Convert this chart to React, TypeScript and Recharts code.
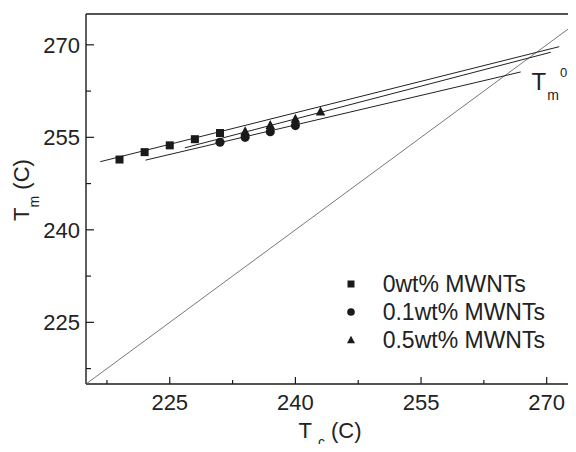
import React from "react";
import {
  ScatterChart,
  Scatter,
  XAxis,
  YAxis,
  ReferenceLine,
  ReferenceDot,
  Legend,
} from "recharts";

const FONT = "'Liberation Sans', Arial, Helvetica, sans-serif";

// measured points, Tc vs Tm (C)
const tcSquare = [219, 222, 225, 228, 231];
const tmSquare = [251.4, 252.6, 253.7, 254.7, 255.7];
const tcCircle = [231, 234, 237, 240];
const tmCircle = [254.2, 255.0, 255.9, 256.9];
const tcTriangle = [234, 237, 240, 243];
const tmTriangle = [256.0, 257.0, 258.0, 259.2];

// linear fits, start and end points
const fitSquareTc = [216.7, 271.5];
const fitSquareTm = [251.05, 269.7];
const fitCircleTc = [222.1, 266.9];
const fitCircleTm = [251.3, 265.6];
const fitTriangleTc = [226.8, 270.5];
const fitTriangleTm = [253.3, 268.8];

// Tm = Tc line
const diagonalT = [215, 273.5];

const seriesNames = ["0wt% MWNTs", "0.1wt% MWNTs", "0.5wt% MWNTs"];
const axisTicks = [217.5, 225, 232.5, 240, 247.5, 255, 262.5, 270];
const majorTicks = [225, 240, 255, 270];
const tm0Pos = { x: 268.2, y: 262.7 };

const toPoints = (xs: number[], ys: number[]) => xs.map((x, i) => ({ x, y: ys[i] }));

const squares = toPoints(tcSquare, tmSquare);
const circles = toPoints(tcCircle, tmCircle);
const triangles = toPoints(tcTriangle, tmTriangle);
const fitSquare = toPoints(fitSquareTc, fitSquareTm);
const fitCircle = toPoints(fitCircleTc, fitCircleTm);
const fitTriangle = toPoints(fitTriangleTc, fitTriangleTm);
const diagonal = toPoints(diagonalT, diagonalT);

const INK = "#1a1a1a";

const marker = (kind: number, cx: number, cy: number, s: number) => {
  if (kind === 0)
    return <rect x={cx - s / 2} y={cy - s / 2} width={s} height={s} fill={INK} />;
  if (kind === 1) return <circle cx={cx} cy={cy} r={s / 2 + 0.3} fill={INK} />;
  const h = s * 0.95;
  return (
    <polygon
      points={`${cx},${cy - h / 2 - 1} ${cx - s / 2 - 0.5},${cy + h / 2} ${cx + s / 2 + 0.5},${cy + h / 2}`}
      fill={INK}
    />
  );
};

const SquareShape = (p: any) => marker(0, p.cx, p.cy, 8);
const CircleShape = (p: any) => marker(1, p.cx, p.cy, 8.5);
const TriangleShape = (p: any) => marker(2, p.cx, p.cy, 8.5);
const NoShape = () => <g />;

const XTick = (props: any) => {
  const { x, y, payload } = props;
  const major = majorTicks.includes(payload.value);
  return (
    <g>
      <line x1={x} x2={x} y1={y} y2={y - (major ? 7 : 4)} stroke={INK} strokeWidth={1.2} />
      {major && (
        <text x={x} y={y + 26} textAnchor="middle" fontSize={22} fill="#222" fontFamily={FONT}>
          {payload.value}
        </text>
      )}
    </g>
  );
};

const YTick = (props: any) => {
  const { x, y, payload } = props;
  const major = majorTicks.includes(payload.value);
  return (
    <g>
      <line x1={x} x2={x + (major ? 8 : 5)} y1={y} y2={y} stroke={INK} strokeWidth={1.2} />
      {major && (
        <text x={x - 6} y={y + 8} textAnchor="end" fontSize={22} fill="#222" fontFamily={FONT}>
          {payload.value}
        </text>
      )}
    </g>
  );
};

const XTitle = (props: any) => {
  const vb = props.viewBox;
  const cx = vb.x + vb.width / 2 - 1;
  return (
    <text x={cx} y={vb.y + 54} textAnchor="middle" fontSize={22} fill="#222" fontFamily={FONT}>
      T
      <tspan dx={6} dy={9} fontSize={14}>c</tspan>
      <tspan dy={-9}> (C)</tspan>
    </text>
  );
};

const YTitle = (props: any) => {
  const vb = props.viewBox;
  const x = vb.x + 21;
  const y = vb.y + 176;
  return (
    <text
      x={x}
      y={y}
      transform={`rotate(-90, ${x}, ${y})`}
      textAnchor="middle"
      fontSize={22}
      fill="#222"
      fontFamily={FONT}
    >
      T
      <tspan dy={10} fontSize={14}>m</tspan>
      <tspan dy={-10}> (C)</tspan>
    </text>
  );
};

const Tm0Label = (p: any) => (
  <text x={p.cx} y={p.cy} fontSize={24} fill="#222" fontFamily={FONT}>
    T
    <tspan dx={1} dy={10} fontSize={14}>m</tspan>
    <tspan dx={1} dy={-23} fontSize={13}>0</tspan>
  </text>
);

const LegendBox = () => (
  <div style={{ fontFamily: FONT, fontSize: 23, color: "#222" }}>
    {seriesNames.map((name, i) => (
      <div
        key={name}
        style={{ display: "flex", alignItems: "center", height: 28, whiteSpace: "nowrap" }}
      >
        <svg width={16} height={16}>
          {marker(i, 8, 8, 7)}
        </svg>
        <span style={{ marginLeft: 24 }}>{name}</span>
      </div>
    ))}
  </div>
);

const HoffmanWeeks = () => {
  return (
    <div style={{ margin: "-8px 0" }}>
      <ScatterChart
        width={568}
        height={452}
        margin={{ top: 14, right: 0, bottom: 8, left: 0 }}
      >
        <XAxis
          type="number"
          dataKey="x"
          domain={[215, 273.5]}
          allowDataOverflow
          ticks={axisTicks}
          interval={0}
          tickLine={false}
          tickSize={0}
          tickMargin={0}
          tick={<XTick />}
          height={60}
          axisLine={{ stroke: INK, strokeWidth: 1.4 }}
          label={{ content: <XTitle /> }}
        />
        <YAxis
          type="number"
          dataKey="y"
          domain={[215, 275]}
          allowDataOverflow
          ticks={axisTicks}
          interval={0}
          tickLine={false}
          tickSize={0}
          tickMargin={0}
          tick={<YTick />}
          width={78}
          axisLine={{ stroke: INK, strokeWidth: 1.4 }}
          label={{ content: <YTitle /> }}
        />
        <ReferenceLine y={275} stroke={INK} strokeWidth={1.4} />
        <Scatter
          data={diagonal}
          line={{ stroke: "#555", strokeWidth: 0.8 }}
          shape={NoShape}
          legendType="none"
          isAnimationActive={false}
        />
        <Scatter
          data={fitSquare}
          line={{ stroke: "#222", strokeWidth: 1 }}
          shape={NoShape}
          legendType="none"
          isAnimationActive={false}
        />
        <Scatter
          data={fitCircle}
          line={{ stroke: "#222", strokeWidth: 1 }}
          shape={NoShape}
          legendType="none"
          isAnimationActive={false}
        />
        <Scatter
          data={fitTriangle}
          line={{ stroke: "#222", strokeWidth: 1 }}
          shape={NoShape}
          legendType="none"
          isAnimationActive={false}
        />
        <Scatter name={seriesNames[0]} data={squares} shape={SquareShape} isAnimationActive={false} />
        <Scatter name={seriesNames[1]} data={circles} shape={CircleShape} isAnimationActive={false} />
        <Scatter name={seriesNames[2]} data={triangles} shape={TriangleShape} isAnimationActive={false} />
        <ReferenceDot x={tm0Pos.x} y={tm0Pos.y} shape={Tm0Label} />
        <Legend
          layout="vertical"
          verticalAlign="middle"
          align="center"
          wrapperStyle={{ left: 334.7, top: 270, width: 230, height: 84 }}
          content={() => <LegendBox />}
        />
      </ScatterChart>
    </div>
  );
};

export default HoffmanWeeks;
